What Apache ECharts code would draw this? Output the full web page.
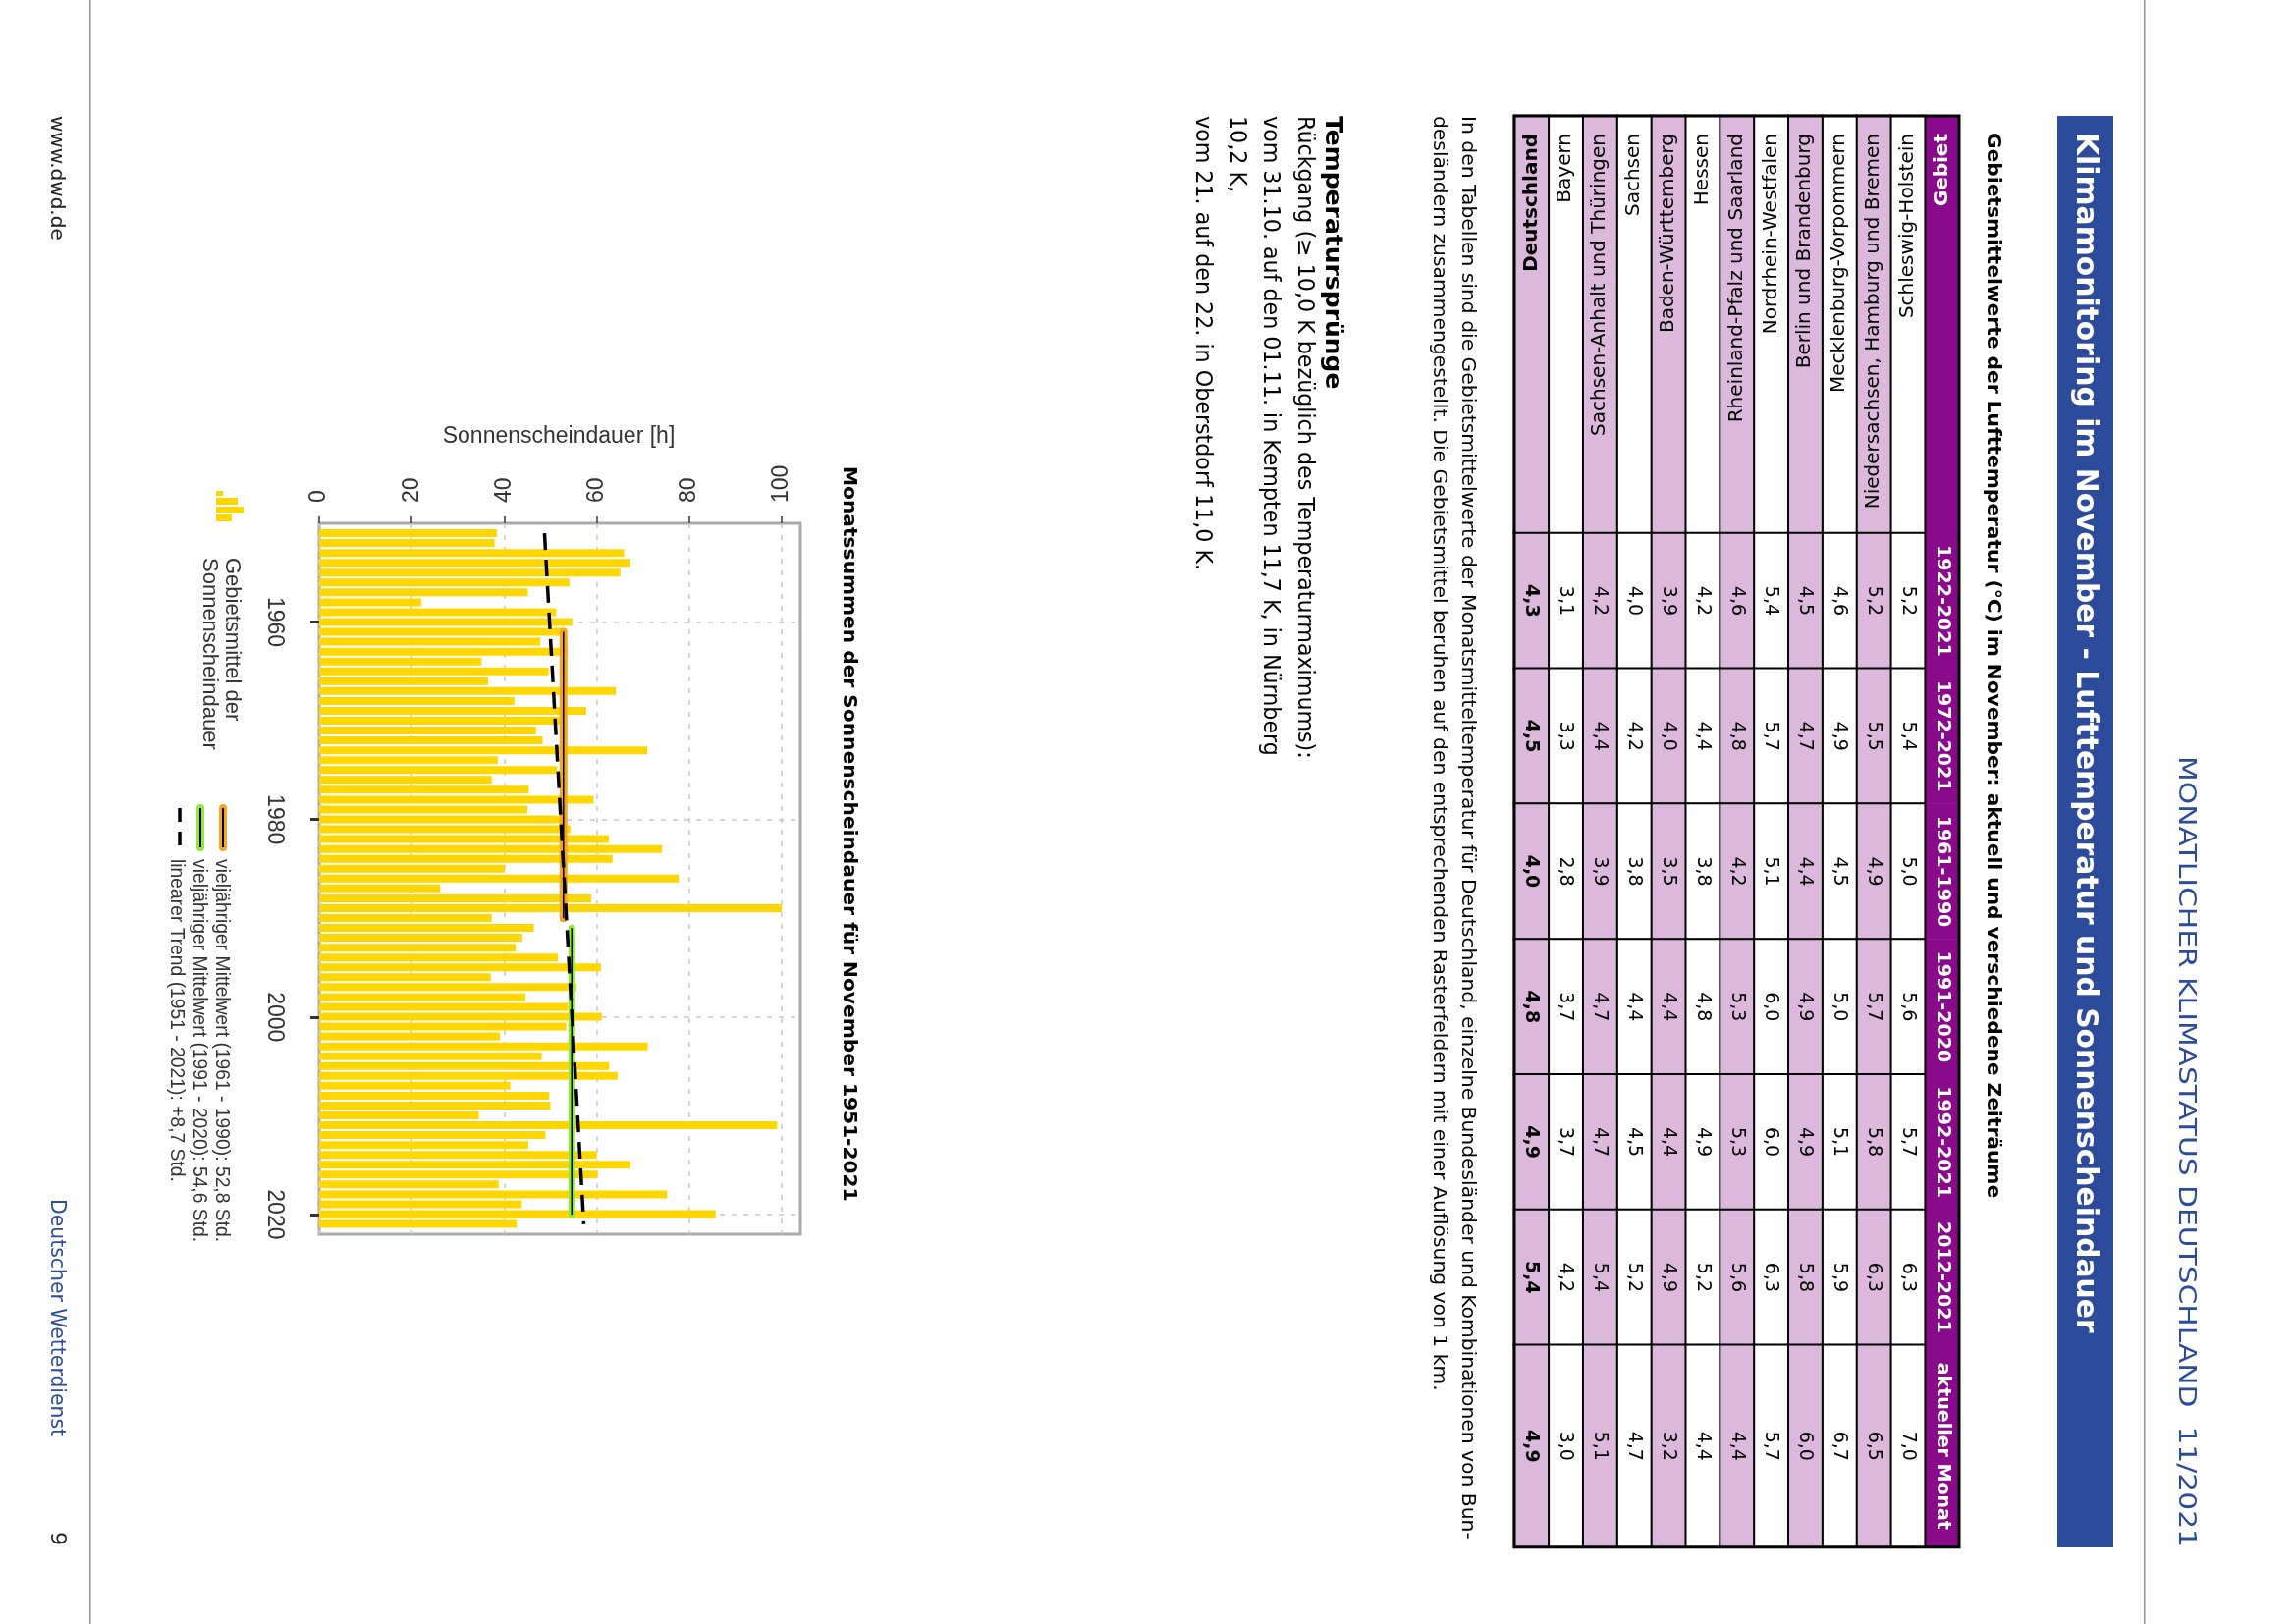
<!DOCTYPE html>
<html lang="de">
<head>
  <meta charset="utf-8">
  <title>Klimamonitoring im November</title>
  <script src="https://cdn.jsdelivr.net/npm/echarts@6/dist/echarts.min.js"></script>
  <style>
    html, body { margin: 0; padding: 0; background: #fff; }
    #main { width: 2336px; height: 1654px; }
  </style>
</head>
<body>
<div id="main"></div>
<script type="text/javascript">
// sonnenscheindauer november
var years = [];
for (var yr = 1951; yr <= 2021; yr++) years.push(String(yr));
var sunshine = [38.4,37.9,65.9,67.3,65.1,54.1,45.1,22.1,51.2,54.7,
  53.0,47.8,53.7,35.1,49.6,36.5,64.1,42.2,57.7,52.5,
  46.9,48.3,70.9,38.6,51.4,37.3,45.3,59.3,45.0,52.1,
  54.3,62.6,74.1,63.4,40.1,77.7,26.2,58.8,100.0,37.3,
  46.4,43.9,42.5,51.6,60.9,37.1,55.6,44.6,53.8,61.1,
  53.4,39.1,71.0,48.1,62.7,64.5,41.3,49.7,50.0,34.5,
  99.0,48.9,45.2,60.0,67.3,60.2,38.8,75.2,43.8,85.7,42.7];
var mean6190 = [[52.8,1961],[52.8,1990]];
var mean9120 = [[54.6,1991],[54.6,2020]];
var trend = [[48.7,1951],[57.2,2021]];
var valueTicks = [0,20,40,60,80,100];
var yearTicks = [1960,1980,2000,2020];

// tabelle
var regions = ['Gebiet','Schleswig-Holstein','Niedersachsen, Hamburg und Bremen','Mecklenburg-Vorpommern',
  'Berlin und Brandenburg','Nordrhein-Westfalen','Rheinland-Pfalz und Saarland','Hessen','Baden-Württemberg',
  'Sachsen','Sachsen-Anhalt und Thüringen','Bayern','Deutschland'];
var periods = ['1922-2021','1972-2021','1961-1990','1991-2020','1992-2021','2012-2021'];
var currentLabel = 'aktueller Monat';
var t1922 = [5.2,5.2,4.6,4.5,5.4,4.6,4.2,3.9,4.0,4.2,3.1,4.3];
var t1972 = [5.4,5.5,4.9,4.7,5.7,4.8,4.4,4.0,4.2,4.4,3.3,4.5];
var t1961 = [5.0,4.9,4.5,4.4,5.1,4.2,3.8,3.5,3.8,3.9,2.8,4.0];
var t1991 = [5.6,5.7,5.0,4.9,6.0,5.3,4.8,4.4,4.4,4.7,3.7,4.8];
var t1992 = [5.7,5.8,5.1,4.9,6.0,5.3,4.9,4.4,4.5,4.7,3.7,4.9];
var t2012 = [6.3,6.3,5.9,5.8,6.3,5.6,5.2,4.9,5.2,5.4,4.2,5.4];
var tCurrent = [7.0,6.5,6.7,6.0,5.7,4.4,4.4,3.2,4.7,5.1,3.0,4.9];

var BLUE = '#2d4b9b', PURPLE = '#890b8b', PINK = '#dcb9dc', GOLD = '#ffd700';
var SANS = '"DejaVu Sans"', PLOT = '"Liberation Sans"';

function txt(s, x, y, size, opts) {
  opts = opts || {};
  return {
    type: 'text', x: x, y: y, rotation: -Math.PI / 2, z: 10, scaleX: opts.stretch || 1,
    style: {
      text: s, fill: opts.color || '#000',
      font: (opts.bold ? 'bold ' : '') + size + 'px ' + (opts.family || SANS),
      textAlign: opts.align || 'left', textBaseline: 'middle'
    }
  };
}

function rowColor(i) {
  if (i === 0) return PURPLE;
  return i % 2 === 0 ? PINK : '#fff';
}

// eine spalte der tabelle als heatmap-zellen, kopfzeile zuerst
function cells(colIdx, header, values, withLabel) {
  var out = [];
  regions.forEach(function (r, i) {
    var v = i === 0 ? 0 : values[i - 1];
    var text = i === 0 ? header : v.toFixed(1).replace('.', ',');
    out.push({
      value: [i, colIdx, v],
      itemStyle: { color: rowColor(i), borderColor: i === 0 ? PURPLE : '#000', borderWidth: i === 0 ? 0 : 2 },
      label: {
        show: withLabel, rotate: -90, formatter: text,
        fontFamily: SANS, fontSize: 19,
        color: i === 0 ? '#fff' : '#000',
        fontWeight: (i === 0 || i === regions.length - 1) ? 'bold' : 'normal'
      }
    });
  });
  return out;
}

var TBL_L = 1542, TBL_W = 453, TBL_T = 118, COL0 = 425, COLN = 137.8, COLL = 206;
var tblGrids = [
  { left: TBL_L, width: TBL_W, top: TBL_T, height: COL0 },
  { left: TBL_L, width: TBL_W, top: TBL_T + COL0, height: COLN * 6 },
  { left: TBL_L, width: TBL_W, top: TBL_T + COL0 + COLN * 6, height: COLL }
];

var rowAxis = function (g, showNames) {
  return {
    gridIndex: g, type: 'category', data: regions, inverse: true, position: 'top', z: 20,
    axisLine: { show: false }, axisTick: { show: false }, splitLine: { show: false },
    axisLabel: showNames ? {
      show: true, inside: true, rotate: -90, margin: 18, interval: 0,
      fontFamily: SANS, fontSize: 20, color: '#000',
      formatter: function (v) {
        if (v === regions[0]) return '{h|' + v + '}';
        if (v === regions[regions.length - 1]) return '{b|' + v + '}';
        return v;
      },
      rich: {
        h: { color: '#fff', fontWeight: 'bold', fontFamily: SANS, fontSize: 20 },
        b: { color: '#000', fontWeight: 'bold', fontFamily: SANS, fontSize: 20 }
      }
    } : { show: false }
  };
};
var colAxis = function (g, data) {
  return {
    gridIndex: g, type: 'category', data: data, inverse: true,
    axisLine: { show: false }, axisTick: { show: false }, axisLabel: { show: false }, splitLine: { show: false }
  };
};

var option = {
  backgroundColor: '#fff',
  animation: false,
  grid: [
    // balken: kategorien 1951-2021
    { left: 325, width: 490, top: 538, height: 713.6, show: false },
    // rahmen, gitter und linien: 1950-2022
    { left: 325, width: 490, top: 533, height: 724, show: true, borderColor: '#aaa', borderWidth: 3, backgroundColor: 'transparent' }
  ].concat(tblGrids),
  xAxis: [
    { gridIndex: 0, type: 'value', min: 0, max: 104, show: false },
    {
      gridIndex: 1, type: 'value', min: 0, max: 104, position: 'top',
      axisLine: { show: false },
      axisTick: { length: 7, customValues: valueTicks, lineStyle: { color: '#333', width: 1.5 } },
      axisLabel: { rotate: -90, margin: 21, customValues: valueTicks, fontFamily: PLOT, fontSize: 23, color: '#333' },
      splitLine: { show: true, lineStyle: { color: '#c8c8c8', width: 1.5, type: [5, 7] } }
    },
    rowAxis(2, true), rowAxis(3, false), rowAxis(4, false)
  ],
  yAxis: [
    { gridIndex: 0, type: 'category', data: years, inverse: true, show: false },
    {
      gridIndex: 1, type: 'value', min: 1950, max: 2022, inverse: true,
      axisLine: { show: false },
      axisTick: { length: 9, customValues: yearTicks, lineStyle: { color: '#333', width: 3 } },
      axisLabel: {
        rotate: -90, margin: 34, customValues: yearTicks, fontFamily: PLOT, fontSize: 23, color: '#333',
        formatter: function (v) { return String(v); }
      },
      splitLine: { show: true, lineStyle: { color: '#c8c8c8', width: 1.5, type: [5, 7] } }
    },
    colAxis(2, ['Gebiet']), colAxis(3, periods), colAxis(4, [currentLabel])
  ],
  series: [
    { type: 'bar', xAxisIndex: 0, yAxisIndex: 0, data: sunshine, barWidth: 8, itemStyle: { color: GOLD }, z: 2 },
    { type: 'line', xAxisIndex: 1, yAxisIndex: 1, data: mean6190, showSymbol: false, z: 3, lineStyle: { color: '#f5a623', width: 8, cap: 'round' } },
    { type: 'line', xAxisIndex: 1, yAxisIndex: 1, data: mean6190, showSymbol: false, z: 4, lineStyle: { color: '#000', width: 1.5 } },
    { type: 'line', xAxisIndex: 1, yAxisIndex: 1, data: mean9120, showSymbol: false, z: 3, lineStyle: { color: '#8fe83a', width: 7, cap: 'round' } },
    { type: 'line', xAxisIndex: 1, yAxisIndex: 1, data: mean9120, showSymbol: false, z: 4, lineStyle: { color: '#000', width: 1.5 } },
    { type: 'line', xAxisIndex: 1, yAxisIndex: 1, data: trend, showSymbol: false, z: 5, lineStyle: { color: '#000', width: 3.5, type: [17, 10] } },
    { type: 'heatmap', xAxisIndex: 2, yAxisIndex: 2, data: cells(0, '', t1922, false) },
    {
      type: 'heatmap', xAxisIndex: 3, yAxisIndex: 3,
      data: cells(0, periods[0], t1922, true).concat(cells(1, periods[1], t1972, true), cells(2, periods[2], t1961, true),
        cells(3, periods[3], t1991, true), cells(4, periods[4], t1992, true), cells(5, periods[5], t2012, true))
    },
    { type: 'heatmap', xAxisIndex: 4, yAxisIndex: 4, data: cells(0, currentLabel, tCurrent, true) }
  ],
  graphic: [
    // seitenlinien
    { type: 'rect', shape: { x: 91, y: 0, width: 1.5, height: 1654 }, style: { fill: '#8c93a5' } },
    { type: 'rect', shape: { x: 2183, y: 0, width: 1.5, height: 1654 }, style: { fill: '#8c93a5' } },
    // kopfbalken
    { type: 'rect', shape: { x: 2095, y: 118, width: 57, height: 1458 }, style: { fill: BLUE } },
    txt('Klimamonitoring im November - Lufttemperatur und Sonnenscheindauer', 2138, 135, 29.8, { bold: true, color: '#fff' }),
    txt('MONATLICHER KLIMASTATUS DEUTSCHLAND  11/2021', 2238, 1576, 25, { color: BLUE, align: 'right', stretch: 1.19 }),
    txt('Gebietsmittelwerte der Lufttemperatur (°C) im November: aktuell und verschiedene Zeiträume', 2039, 135, 20.2, { bold: true }),
    // tabellenrahmen
    { type: 'rect', z: 9, shape: { x: TBL_L, y: TBL_T, width: TBL_W, height: COL0 + COLN * 6 + COLL }, style: { fill: 'none', stroke: '#000', lineWidth: 3 } },
    // text
    txt('In den Tabellen sind die Gebietsmittelwerte der Monatsmitteltemperatur für Deutschland, einzelne Bundesländer und Kombinationen von Bun-', 1504, 118, 20.3),
    txt('desländern zusammengestellt. Die Gebietsmittel beruhen auf den entsprechenden Rasterfeldern mit einer Auflösung von 1 km.', 1475, 118, 20.3),
    txt('Temperatursprünge', 1369, 118, 25, { bold: true }),
    txt('Rückgang (≥ 10,0 K bezüglich des Temperaturmaximums):', 1339, 118, 22.2),
    txt('vom 31.10. auf den 01.11. in Kempten 11,7 K, in Nürnberg', 1304, 118, 22.2),
    txt('10,2 K,', 1270, 118, 22.2),
    txt('vom 21. auf den 22. in Oberstdorf 11,0 K.', 1235, 118, 22.2),
    // diagramm
    txt('Monatssummen der Sonnenscheindauer für November 1951-2021', 874, 475, 20.2, { bold: true }),
    { type: 'text', x: 569, y: 433, z: 10, style: { text: 'Sonnenscheindauer [h]', font: '23px ' + PLOT, fill: '#333', textAlign: 'center', textBaseline: 'middle' } },
    // legende: kleines histogramm
    { type: 'rect', shape: { x: 220, y: 500, width: 7, height: 5 }, style: { fill: GOLD } },
    { type: 'rect', shape: { x: 220, y: 507, width: 22, height: 7 }, style: { fill: GOLD } },
    { type: 'rect', shape: { x: 220, y: 516, width: 28, height: 6 }, style: { fill: GOLD } },
    { type: 'rect', shape: { x: 220, y: 524, width: 16, height: 7 }, style: { fill: GOLD } },
    txt('Gebietsmittel der', 247, 568, 22, { family: PLOT, color: '#333' }),
    txt('Sonnenscheindauer', 224, 568, 22, { family: PLOT, color: '#333' }),
    { type: 'line', shape: { x1: 227, y1: 823, x2: 227, y2: 863 }, style: { stroke: '#f5a623', lineWidth: 8, lineCap: 'round' } },
    { type: 'line', shape: { x1: 227, y1: 823, x2: 227, y2: 863 }, style: { stroke: '#000', lineWidth: 2 } },
    { type: 'line', shape: { x1: 204, y1: 823, x2: 204, y2: 863 }, style: { stroke: '#8fe83a', lineWidth: 8, lineCap: 'round' } },
    { type: 'line', shape: { x1: 204, y1: 823, x2: 204, y2: 863 }, style: { stroke: '#000', lineWidth: 2 } },
    { type: 'line', shape: { x1: 183, y1: 823, x2: 183, y2: 863 }, style: { stroke: '#000', lineWidth: 3.5, lineDash: [14, 10] } },
    txt('vieljähriger Mittelwert (1961 - 1990): 52,8 Std.', 235, 875, 19.3, { family: PLOT, color: '#333' }),
    txt('vieljähriger Mittelwert (1991 - 2020): 54,6 Std.', 212, 875, 19.3, { family: PLOT, color: '#333' }),
    txt('linearer Trend (1951 - 2021): +8,7 Std.', 189, 875, 19.3, { family: PLOT, color: '#333' }),
    // fusszeile
    txt('www.dwd.de', 67, 118, 20, { color: '#222' }),
    txt('Deutscher Wetterdienst', 67, 1221, 20.4, { color: BLUE }),
    txt('9', 69, 1560, 22, { color: '#222' })
  ]
};
var chart = echarts.init(document.getElementById('main'));
chart.setOption(option);
</script>
</body>
</html>
